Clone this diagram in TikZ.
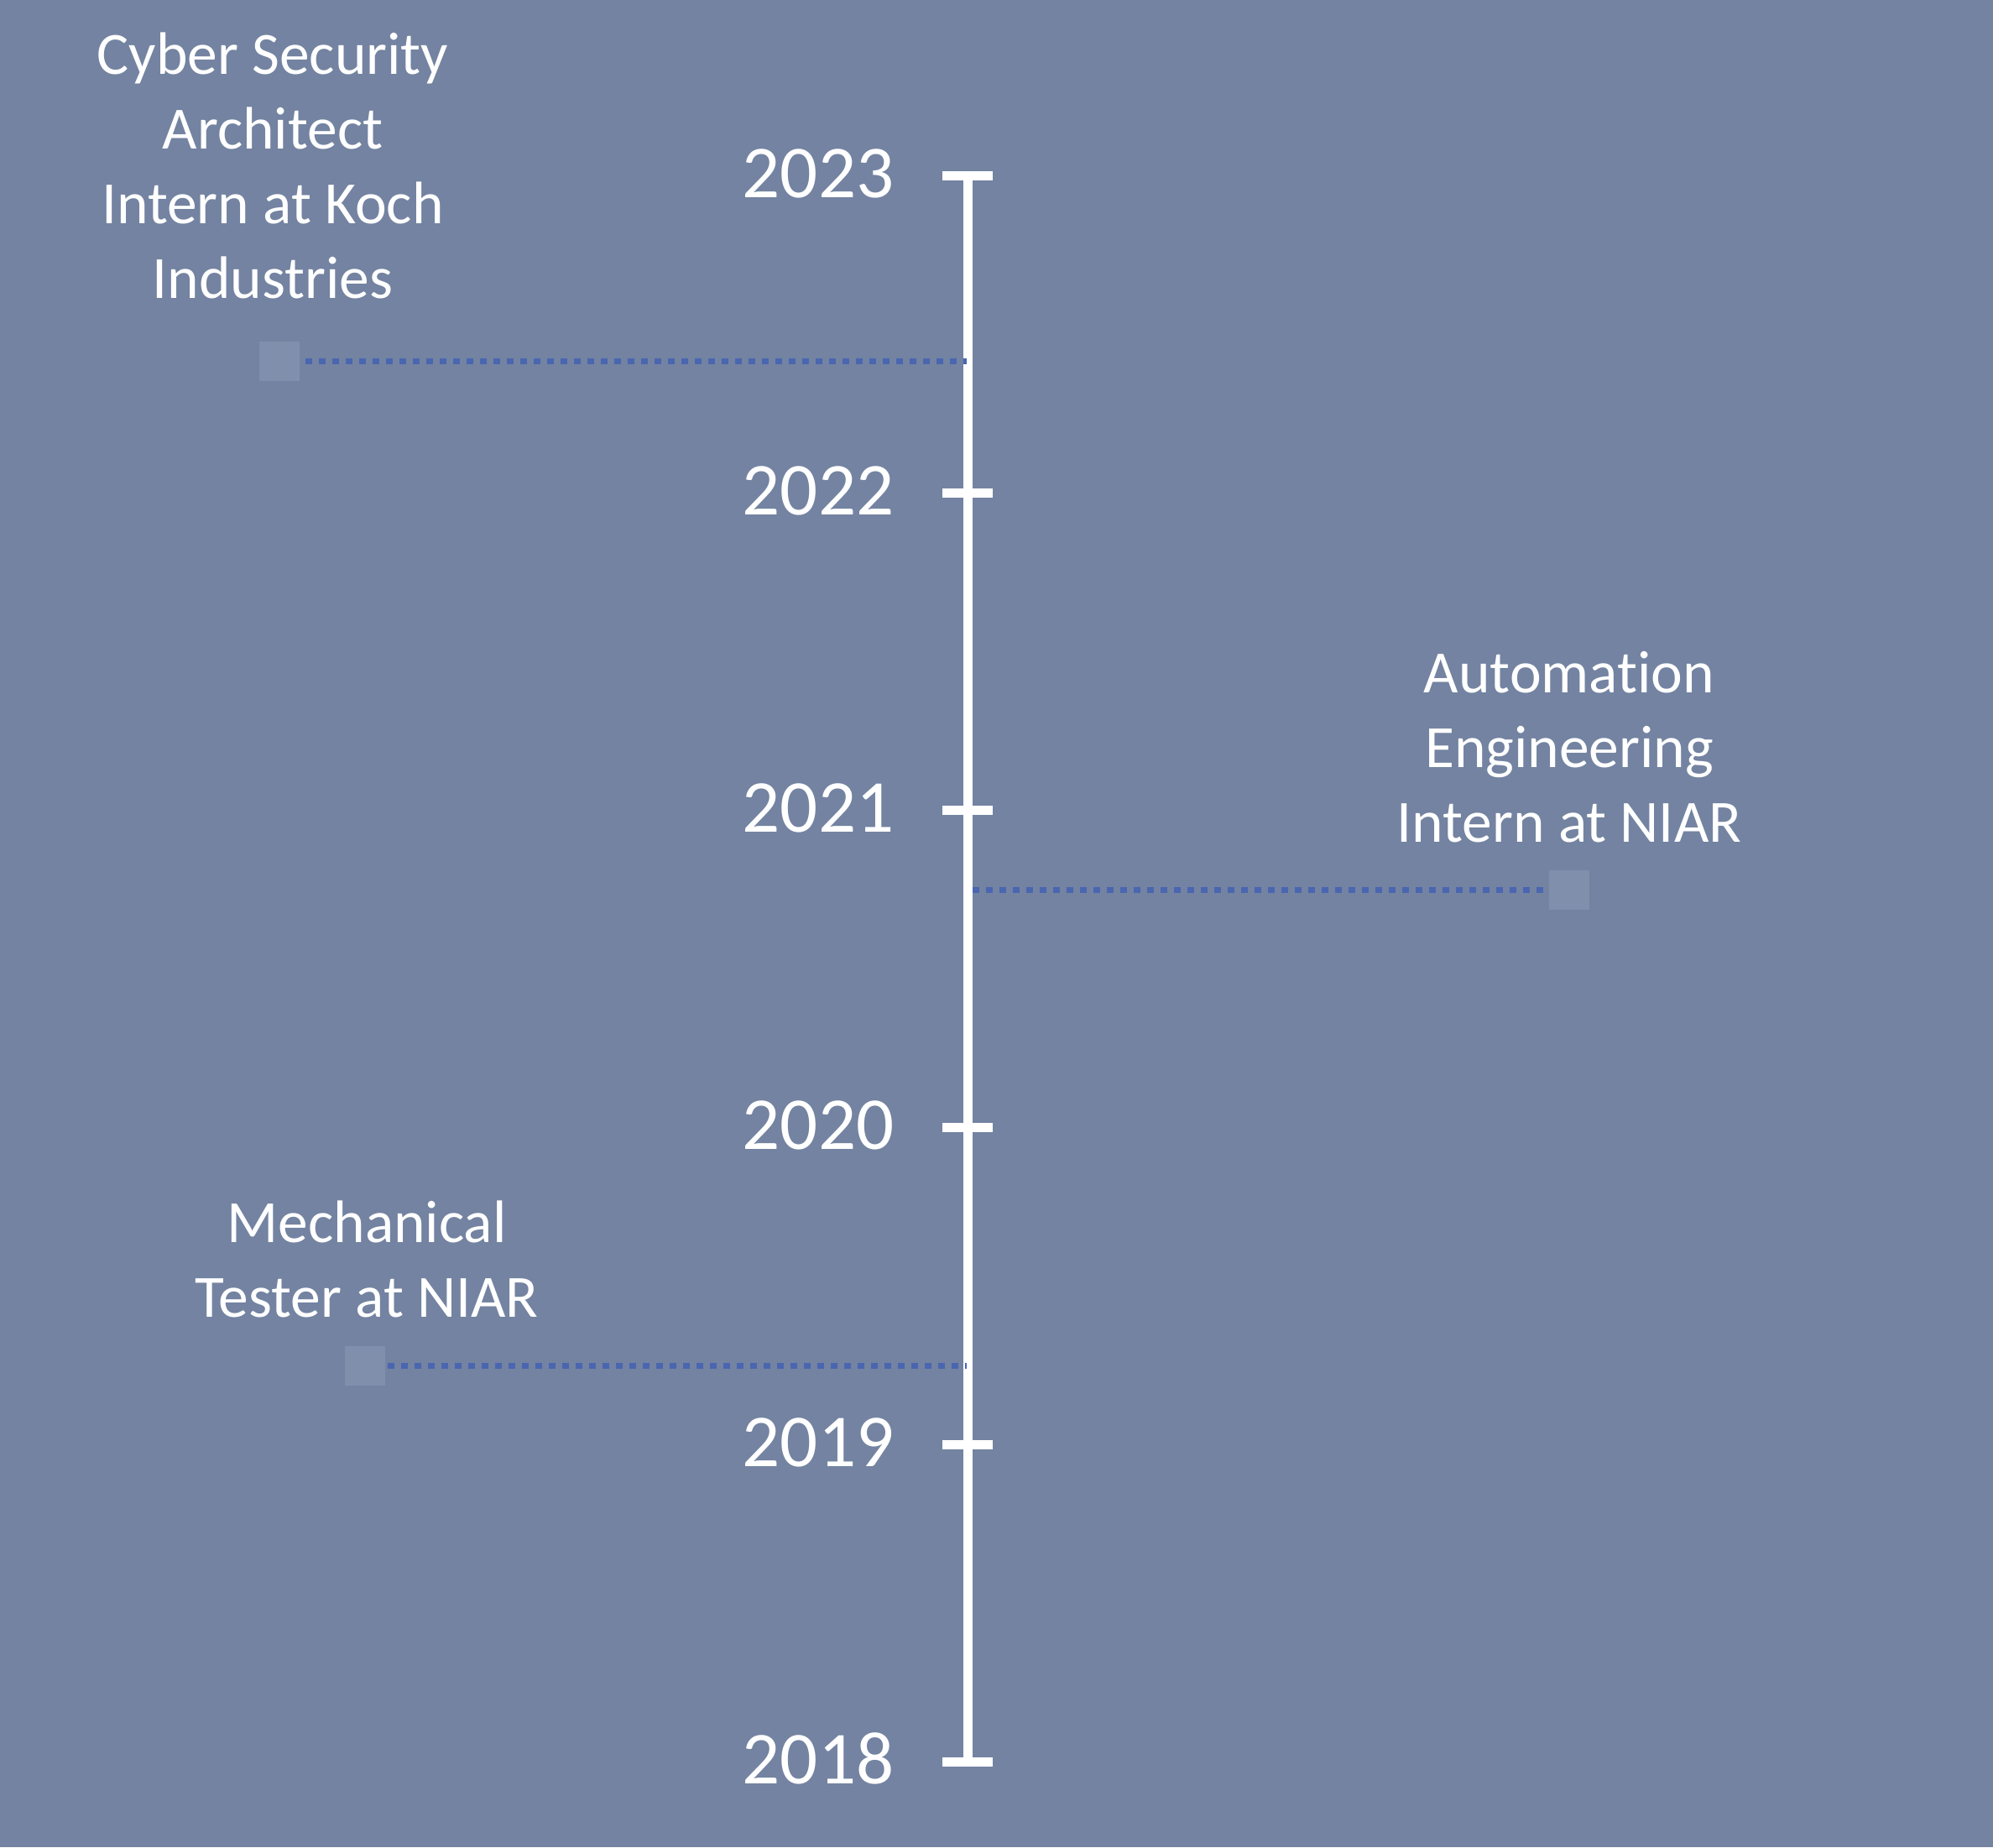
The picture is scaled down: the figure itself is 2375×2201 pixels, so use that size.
\documentclass[tikz,border=0pt]{standalone}
\usepackage{fontspec}
\setmainfont{Carlito}[Ligatures=NoCommon]
\definecolor{bg}{HTML}{7383A1}
\definecolor{sq}{HTML}{808FAB}
\definecolor{dotc}{HTML}{4A66B0}
\begin{document}
\begin{tikzpicture}[x=1pt,y=-1pt,
  axisline/.style={white,line width=11pt},
  tickline/.style={white,line width=11pt},
  year/.style={text=white,font=\fontsize{89}{100}\selectfont,anchor=base east,inner sep=0pt},
  marker/.style={fill=sq,minimum width=48pt,minimum height=47pt,inner sep=0pt,draw=none},
  link/.style={dotc,line width=7pt,dash pattern=on 8pt off 8pt},
  job/.style={text=white,font=\fontsize{71.5}{89}\selectfont,align=center,anchor=base,inner sep=0pt}]
\fill[bg] (0,0) rectangle (2375,2201);
\useasboundingbox (0,0) rectangle (2375,2201);
% axis
\coordinate (t2023) at (1153.5,209.5);
\coordinate (t2022) at (1153.5,587.5);
\coordinate (t2021) at (1153.5,965.5);
\coordinate (t2020) at (1153.5,1343.5);
\coordinate (t2019) at (1153.5,1721.5);
\coordinate (t2018) at (1153.5,2099.5);
\draw[axisline] (t2023) -- (t2018);
\foreach \yr in {2023,2022,2021,2020,2019,2018}{
  \draw[tickline] ([xshift=-30.5pt]t\yr) -- ([xshift=29.5pt]t\yr);
  \node[year] (y\yr) at ([xshift=-88pt,yshift=-26pt]t\yr) {\yr};
}
% markers
\node[marker] (mK) at (333,430) {};
\node[marker] (mA) at (1870,1060) {};
\node[marker] (mM) at (435,1627) {};
\coordinate (aK) at (1152,430);
\coordinate (aA) at (1159,1060);
\coordinate (aM) at (1152,1627);
\draw[link] ([xshift=7pt]mK.east) -- (aK);
\draw[link] (aA) -- ([xshift=-7pt]mA.west);
\draw[link] ([xshift=3pt]mM.east) -- (aM);
% texts (anchored at the baseline of the last line)
\node[job] (jK) at (325,355) {Cyber Security\\Architect\\Intern at Koch\\Industries};
\node[job] (jA) at (1870,1003) {Automation\\Engineering\\Intern at NIAR};
\node[job] (jM) at (437,1569) {Mechanical\\Tester at NIAR};
\end{tikzpicture}
\end{document}
